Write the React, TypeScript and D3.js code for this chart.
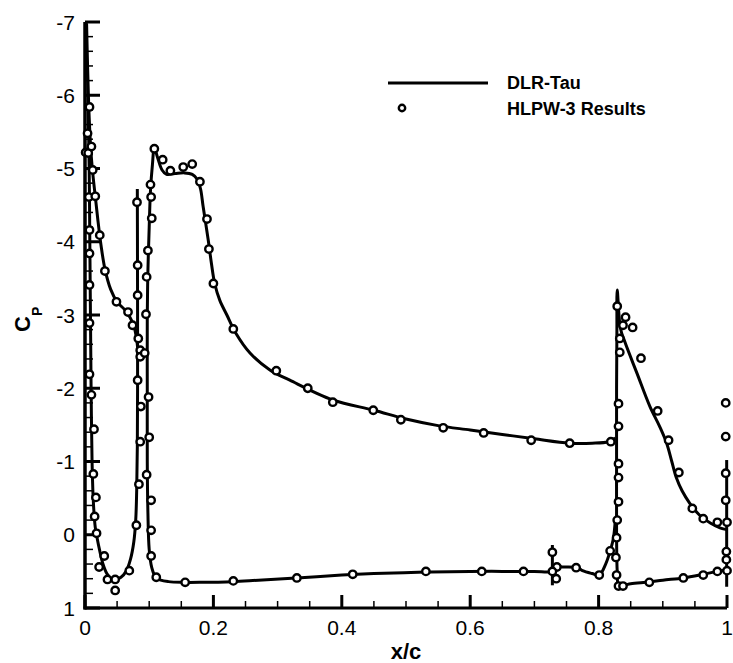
import React from "react";
import * as d3 from "d3";

// ---------- data (x/c, Cp) ----------
const xTicks = [0, 0.2, 0.4, 0.6, 0.8, 1];
const xTickLabels = ["0", "0.2", "0.4", "0.6", "0.8", "1"];
const yTicks = [-7, -6, -5, -4, -3, -2, -1, 0, 1];
const yTickLabels = ["-7", "-6", "-5", "-4", "-3", "-2", "-1", "0", "1"];

// DLR-Tau lines, one per element
const slatCurve: [number, number][] = [
  [0.0815, -4.72], [0.0817, -4.0], [0.0819, -3.0], [0.0819, -2.0], [0.0815, -1.2],
  [0.0805, -0.6], [0.079, -0.2], [0.076, 0.1], [0.071, 0.33], [0.064, 0.5],
  [0.056, 0.58], [0.048, 0.61], [0.041, 0.6], [0.034, 0.53], [0.028, 0.4],
  [0.023, 0.22], [0.019, 0.05], [0.016, -0.1], [0.013, -0.45], [0.011, -1.0],
  [0.0095, -2.0], [0.0085, -3.0], [0.0075, -4.0], [0.0065, -5.0], [0.0045, -6.0],
  [0.0025, -6.97], [0.004, -6.4], [0.0065, -5.7], [0.0095, -5.2], [0.0125, -4.9],
  [0.016, -4.62], [0.02, -4.3], [0.025, -3.95], [0.031, -3.63], [0.04, -3.35],
  [0.05, -3.18], [0.062, -3.07], [0.07, -2.97], [0.076, -2.85], [0.08, -2.7],
  [0.082, -2.55],
];

const mainCurve: [number, number][] = [
  [0.826, -0.2], [0.823, 0.05], [0.818, 0.22], [0.811, 0.4], [0.801, 0.55],
  [0.79, 0.53], [0.775, 0.49], [0.768, 0.45], [0.745, 0.44], [0.735, 0.44],
  [0.728, 0.5], [0.7, 0.5], [0.65, 0.5], [0.6, 0.5], [0.53, 0.51], [0.45, 0.53],
  [0.4, 0.55], [0.33, 0.59], [0.27, 0.62], [0.23, 0.64], [0.18, 0.65],
  [0.15, 0.65], [0.13, 0.64], [0.118, 0.62], [0.11, 0.58], [0.104, 0.45],
  [0.1, 0.2], [0.098, -0.3], [0.097, -1.0], [0.097, -2.0], [0.097, -3.0],
  [0.098, -3.6], [0.1, -4.2], [0.102, -4.7], [0.105, -5.05], [0.108, -5.28],
  [0.113, -5.15], [0.12, -4.98], [0.127, -4.92], [0.14, -4.93], [0.155, -4.94],
  [0.167, -4.92], [0.175, -4.85], [0.18, -4.72], [0.184, -4.48], [0.192, -4.02],
  [0.197, -3.7], [0.202, -3.43], [0.21, -3.2], [0.221, -3.0], [0.235, -2.75],
  [0.257, -2.48], [0.288, -2.25], [0.319, -2.11], [0.386, -1.84], [0.45, -1.7],
  [0.5, -1.58], [0.55, -1.49], [0.6, -1.43], [0.65, -1.37], [0.7, -1.31],
  [0.755, -1.25], [0.79, -1.25], [0.815, -1.27], [0.826, -1.32],
];

const flapCurve: [number, number][] = [
  [0.9995, 0.48], [0.985, 0.5], [0.963, 0.54], [0.932, 0.59], [0.9, 0.62],
  [0.879, 0.645], [0.85, 0.67], [0.838, 0.69], [0.831, 0.68], [0.829, 0.5],
  [0.828, 0.0], [0.828, -1.0], [0.828, -2.0], [0.8285, -2.8], [0.829, -3.34],
  [0.834, -2.82], [0.841, -2.63], [0.86, -2.2], [0.88, -1.75], [0.895, -1.48],
  [0.906, -1.25], [0.914, -1.0], [0.921, -0.78], [0.93, -0.6], [0.942, -0.43],
  [0.957, -0.27], [0.974, -0.16], [0.99, -0.09], [0.9995, -0.07],
];

const mainSpike: [number, number][] = [[0.728, 0.14], [0.728, 0.69]];
const flapTeSpike: [number, number][] = [[0.9995, -1.02], [0.9995, 0.71]];

// HLPW-3 results
const hlpwSlat: [number, number][] = [
  [0.007, -5.84], [0.004, -5.48], [0.001, -5.22], [0.005, -5.21], [0.01, -5.3],
  [0.012, -4.98], [0.006, -4.61], [0.016, -4.62], [0.007, -4.16], [0.023, -4.09],
  [0.007, -3.84], [0.031, -3.6], [0.007, -3.41], [0.049, -3.18], [0.067, -3.04],
  [0.074, -2.86], [0.007, -2.89], [0.083, -2.68], [0.086, -2.52], [0.086, -2.43],
  [0.082, -2.11], [0.087, -1.75], [0.086, -1.27], [0.084, -0.69], [0.08, -0.13],
  [0.069, 0.49], [0.047, 0.61], [0.047, 0.76], [0.035, 0.61], [0.022, 0.44],
  [0.03, 0.29], [0.018, -0.02], [0.015, -0.25], [0.017, -0.51], [0.013, -0.83],
  [0.014, -1.44], [0.01, -1.91], [0.007, -2.19], [0.081, -4.54], [0.082, -3.68],
  [0.082, -3.27],
];

const hlpwMain: [number, number][] = [
  [0.108, -5.27], [0.121, -5.12], [0.133, -4.97], [0.153, -5.02], [0.167, -5.06],
  [0.179, -4.82], [0.19, -4.31], [0.193, -3.9], [0.2, -3.43], [0.231, -2.81],
  [0.298, -2.24], [0.347, -2.0], [0.386, -1.81], [0.449, -1.7], [0.492, -1.57],
  [0.558, -1.46], [0.621, -1.39], [0.695, -1.29], [0.755, -1.25], [0.819, -1.27],
  [0.102, -4.78], [0.103, -4.61], [0.104, -4.32], [0.098, -3.88], [0.096, -3.52],
  [0.095, -3.01], [0.093, -2.48], [0.099, -1.88], [0.1, -1.33], [0.096, -0.82],
  [0.103, -0.47], [0.103, -0.06], [0.103, 0.29], [0.111, 0.58], [0.156, 0.65],
  [0.231, 0.63], [0.33, 0.59], [0.417, 0.54], [0.531, 0.5], [0.618, 0.5],
  [0.683, 0.5], [0.728, 0.24], [0.735, 0.44], [0.734, 0.6], [0.728, 0.5],
  [0.765, 0.45], [0.801, 0.55], [0.818, 0.22],
];

const hlpwFlap: [number, number][] = [
  [0.829, -3.12], [0.842, -2.97], [0.838, -2.86], [0.853, -2.83], [0.833, -2.68],
  [0.833, -2.49], [0.866, -2.41], [0.831, -1.79], [0.831, -1.48], [0.892, -1.69],
  [0.909, -1.29], [0.925, -0.85], [0.946, -0.36], [0.963, -0.22], [0.985, -0.17],
  [1.0, -0.17], [0.831, -0.97], [0.831, -0.78], [0.831, -0.45], [0.829, -0.2],
  [0.828, 0.04], [0.827, 0.31], [0.828, 0.55], [0.831, 0.7], [0.838, 0.7],
  [0.879, 0.65], [0.932, 0.59], [0.963, 0.55], [0.985, 0.5], [1.0, 0.49],
  [0.999, 0.34], [0.999, 0.23], [0.998, -0.47], [0.998, -0.84], [0.998, -1.34],
  [0.998, -1.8],
];

const legendLabels = ["DLR-Tau", "HLPW-3 Results"];

// ---------- layout ----------
const W = 733;
const H = 663;
const x = d3.scaleLinear().domain([0, 1]).range([85, 727]);
const y = d3.scaleLinear().domain([-7, 1]).range([22, 608]);

const FONT = "'Liberation Sans', Arial, Helvetica, sans-serif";

export default function App() {
  const line = d3
    .line<[number, number]>()
    .x((d) => x(d[0]))
    .y((d) => y(d[1]))
    .curve(d3.curveCatmullRom.alpha(0.5));
  const straight = d3
    .line<[number, number]>()
    .x((d) => x(d[0]))
    .y((d) => y(d[1]));

  const xMinor = d3.range(0, 1.0001, 0.05).filter((v) => Math.abs(v * 5 - Math.round(v * 5)) > 1e-6);
  const yMinor = d3.range(-7, 1.0001, 0.2).filter((v) => Math.abs(v - Math.round(v)) > 1e-6);
  const allMarkers = [...hlpwSlat, ...hlpwMain, ...hlpwFlap];

  const [x0, x1] = x.range();
  const [y0, y1] = y.range();

  return (
    <svg
      width={W}
      height={H}
      style={{ position: "absolute", left: 0, top: 0, background: "#fff" }}
      fontFamily={FONT}
    >
      <rect x={0} y={0} width={W} height={H} fill="#fff" />
      {/* axes */}
      <g stroke="#000" fill="none">
        <line x1={x0} y1={y0} x2={x0} y2={y1 + 1.5} strokeWidth={3.5} />
        <line x1={x0 - 1.5} y1={y1} x2={x1} y2={y1} strokeWidth={3} />
        {xTicks.map((t) => (
          <line key={"xt" + t} x1={x(t)} x2={x(t)} y1={y1} y2={y1 - 13} strokeWidth={3} />
        ))}
        {xMinor.map((t) => (
          <line key={"xm" + t} x1={x(t)} x2={x(t)} y1={y1} y2={y1 - 7} strokeWidth={1.5} />
        ))}
        {yTicks.map((t) => (
          <line key={"yt" + t} x1={x0} x2={x0 + 15} y1={y(t)} y2={y(t)} strokeWidth={3} />
        ))}
        {yMinor.map((t) => (
          <line key={"ym" + t} x1={x0} x2={x0 + 8} y1={y(t)} y2={y(t)} strokeWidth={1.5} />
        ))}
      </g>
      {/* tick labels */}
      <g fontSize={21} fill="#000">
        {xTicks.map((t, i) => (
          <text key={"xl" + t} x={x(t)} y={y1 + 27} textAnchor="middle">
            {xTickLabels[i]}
          </text>
        ))}
        {yTicks.map((t, i) => (
          <text key={"yl" + t} x={x0 - 10} y={y(t) + 7.5} textAnchor="end">
            {yTickLabels[i]}
          </text>
        ))}
      </g>
      {/* axis titles */}
      <text x={(x0 + x1) / 2} y={659} textAnchor="middle" fontSize={22} fontWeight="bold">
        x/c
      </text>
      <g transform="translate(30,332) rotate(-90)">
        <text x={0} y={0} fontSize={22} fontWeight="bold">
          C
          <tspan fontSize={14} dy={12}>
            P
          </tspan>
        </text>
      </g>
      {/* DLR-Tau lines */}
      <g stroke="#000" strokeWidth={3} fill="none" strokeLinejoin="round">
        <path d={line(slatCurve) || ""} />
        <path d={line(mainCurve) || ""} />
        <path d={line(flapCurve) || ""} />
        <path d={straight(mainSpike) || ""} />
        <path d={straight(flapTeSpike) || ""} />
      </g>
      {/* HLPW-3 markers */}
      <g stroke="#000" strokeWidth={2.4} fill="#fff">
        {allMarkers.map((d, i) => (
          <circle key={"m" + i} cx={x(d[0])} cy={y(d[1])} r={3.7} />
        ))}
      </g>
      {/* legend */}
      <line x1={388} x2={488} y1={83} y2={83} stroke="#000" strokeWidth={3} />
      <text x={507} y={89} fontSize={18} fontWeight="bold">
        {legendLabels[0]}
      </text>
      <circle cx={402} cy={108} r={3.2} stroke="#000" strokeWidth={2.4} fill="#fff" />
      <text x={507} y={115} fontSize={18} fontWeight="bold">
        {legendLabels[1]}
      </text>
    </svg>
  );
}
